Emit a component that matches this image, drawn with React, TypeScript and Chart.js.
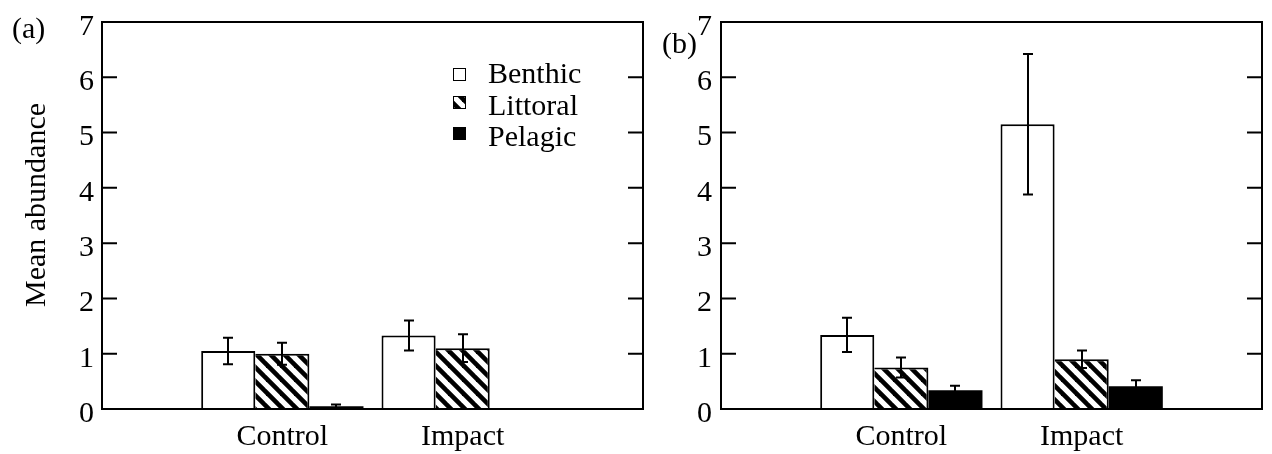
import React, { useEffect, useRef } from "react";
import { Chart, registerables } from "chart.js";

Chart.register(...registerables);

const categories = ["", "Control", "Impact", ""];
const seriesNames = ["Benthic", "Littoral", "Pelagic"];
const yTickValues = [0, 1, 2, 3, 4, 5, 6, 7];

// Panel (a)
const benthicA = [null, 1.05, 1.33, null];
const littoralA = [null, 1.0, 1.1, null];
const pelagicA = [null, 0.05, 0, null];
const benthicErrA = [0, 0.24, 0.27, 0];
const littoralErrA = [0, 0.2, 0.25, 0];
const pelagicErrA = [0, 0.03, 0, 0];

// Panel (b)
const benthicB = [null, 1.34, 5.15, null];
const littoralB = [null, 0.75, 0.9, null];
const pelagicB = [null, 0.34, 0.41, null];
const benthicErrB = [0, 0.31, 1.27, 0];
const littoralErrB = [0, 0.18, 0.16, 0];
const pelagicErrB = [0, 0.08, 0.11, 0];

const FONT = "'Liberation Serif', 'Times New Roman', serif";
const FS = 30;

function makeHatch(): CanvasPattern | string {
  const c = document.createElement("canvas");
  const p = 14;
  c.width = p;
  c.height = p;
  const g = c.getContext("2d");
  if (!g) return "#888";
  g.fillStyle = "#fff";
  g.fillRect(0, 0, p, p);
  g.strokeStyle = "#000";
  g.lineWidth = 4.6;
  for (let k = -1; k <= 1; k++) {
    g.beginPath();
    g.moveTo(k * p - 3, -3);
    g.lineTo(k * p + p + 3, p + 3);
    g.stroke();
  }
  const ctx = document.createElement("canvas").getContext("2d");
  const pat = ctx ? ctx.createPattern(c, "repeat") : null;
  return pat || "#888";
}

type PanelCfg = {
  benthic: (number | null)[];
  littoral: (number | null)[];
  pelagic: (number | null)[];
  errs: number[][];
  yAxisWidth: number;
  tickPad: number;
  rightPad: number;
  label: string;
  labelX: number;
  labelY: number;
  showLegend: boolean;
  showTitle: boolean;
};

function buildChart(canvas: HTMLCanvasElement, cfg: PanelCfg) {
  const hatch = makeHatch();
  const fills = ["#ffffff", hatch, "#000000"];
  const values = [cfg.benthic, cfg.littoral, cfg.pelagic];
  const borders = [
    { top: 2, left: 2, right: 2, bottom: 0 },
    { top: 2, left: 0, right: 2, bottom: 0 },
    0,
  ];

  const overlay = {
    id: "overlay" + cfg.label,
    afterDatasetsDraw(chart: any) {
      const ctx = chart.ctx as CanvasRenderingContext2D;
      const { left, right, top, bottom } = chart.chartArea;
      const ys = chart.scales.y;
      ctx.save();
      // error bars
      ctx.strokeStyle = "#000";
      ctx.lineWidth = 2;
      values.forEach((arr, di) => {
        const meta = chart.getDatasetMeta(di);
        meta.data.forEach((bar: any, i: number) => {
          const v = arr[i];
          const e = cfg.errs[di][i];
          if (v == null || !e) return;
          const x = Math.round(bar.x);
          const y1 = ys.getPixelForValue(v + e);
          const y2 = ys.getPixelForValue(Math.max(0, v - e));
          ctx.beginPath();
          ctx.moveTo(x, y1);
          ctx.lineTo(x, y2);
          ctx.moveTo(x - 5, y1);
          ctx.lineTo(x + 5, y1);
          ctx.moveTo(x - 5, y2);
          ctx.lineTo(x + 5, y2);
          ctx.stroke();
        });
      });
      // frame
      ctx.lineWidth = 2;
      ctx.strokeRect(left, top, right - left, bottom - top);
      // inward ticks + tick labels
      ctx.fillStyle = "#000";
      ctx.font = `${FS}px ${FONT}`;
      yTickValues.forEach((t) => {
        const y = ys.getPixelForValue(t);
        ctx.textAlign = "right";
        ctx.textBaseline = "middle";
        ctx.fillText(String(t), left - cfg.tickPad, y + 5);
        if (t === 0 || t === 7) return;
        ctx.beginPath();
        ctx.moveTo(left, y);
        ctx.lineTo(left + 15, y);
        ctx.moveTo(right - 15, y);
        ctx.lineTo(right, y);
        ctx.stroke();
      });
      // panel label
      ctx.textAlign = "left";
      ctx.textBaseline = "middle";
      ctx.fillText(cfg.label, cfg.labelX, cfg.labelY);
      // y title
      if (cfg.showTitle) {
        ctx.save();
        ctx.translate(37, 205);
        ctx.rotate(-Math.PI / 2);
        ctx.textAlign = "center";
        ctx.textBaseline = "middle";
        ctx.fillText("Mean abundance", 0, 0);
        ctx.restore();
      }
      // legend
      if (cfg.showLegend) {
        const baselines = [83, 114.5, 146];
        const boxTops = [68, 96, 127];
        seriesNames.forEach((name, i) => {
          const bt = boxTops[i];
          ctx.fillStyle = fills[i] as any;
          ctx.fillRect(453, bt, 13, 13);
          ctx.lineWidth = 1;
          ctx.strokeStyle = "#000";
          ctx.strokeRect(453.5, bt + 0.5, 12, 12);
          ctx.fillStyle = "#000";
          ctx.textAlign = "left";
          ctx.textBaseline = "alphabetic";
          ctx.fillText(name, 488, baselines[i]);
        });
      }
      ctx.restore();
    },
  };

  return new Chart(canvas, {
    type: "bar",
    data: {
      labels: categories,
      datasets: values.map((arr, i) => ({
        label: seriesNames[i],
        data: arr as any,
        backgroundColor: fills[i] as any,
        borderColor: "#000",
        borderWidth: borders[i] as any,
        borderSkipped: false as any,
        categoryPercentage: 0.9,
        barPercentage: 1.0,
      })),
    },
    options: {
      responsive: false,
      animation: false,
      layout: { padding: { left: 0, right: cfg.rightPad, top: 22, bottom: 0 } },
      plugins: {
        legend: { display: false },
        tooltip: { enabled: false },
        title: { display: false },
      },
      scales: {
        x: {
          offset: false,
          grid: { display: false, drawTicks: false },
          border: { display: false },
          ticks: {
            color: "#000",
            font: { family: FONT, size: FS },
            padding: 10,
            maxRotation: 0,
            autoSkip: false,
          },
          afterFit: (s: any) => {
            s.height = 45;
          },
        },
        y: {
          min: 0,
          max: 7,
          grid: { display: false, drawTicks: false },
          border: { display: false },
          ticks: { display: false, stepSize: 1 },
          afterFit: (s: any) => {
            s.width = cfg.yAxisWidth;
          },
        },
      },
    },
    plugins: [overlay],
  });
}

export default function App() {
  const refA = useRef<HTMLCanvasElement>(null);
  const refB = useRef<HTMLCanvasElement>(null);

  useEffect(() => {
    const a = buildChart(refA.current!, {
      benthic: benthicA,
      littoral: littoralA,
      pelagic: pelagicA,
      errs: [benthicErrA, littoralErrA, pelagicErrA],
      yAxisWidth: 102,
      tickPad: 8,
      rightPad: 12,
      label: "(a)",
      labelX: 12,
      labelY: 30,
      showLegend: true,
      showTitle: true,
    });
    const b = buildChart(refB.current!, {
      benthic: benthicB,
      littoral: littoralB,
      pelagic: pelagicB,
      errs: [benthicErrB, littoralErrB, pelagicErrB],
      yAxisWidth: 66,
      tickPad: 9,
      rightPad: 10,
      label: "(b)",
      labelX: 7,
      labelY: 45,
      showLegend: false,
      showTitle: false,
    });
    return () => {
      a.destroy();
      b.destroy();
    };
  }, []);

  return (
    <div
      style={{
        position: "fixed",
        left: 0,
        top: 0,
        width: 1272,
        height: 454,
        background: "#fff",
        overflow: "hidden",
      }}
    >
      <canvas
        ref={refA}
        width={655}
        height={454}
        style={{ position: "absolute", left: 0, top: 0, width: 655, height: 454 }}
      />
      <canvas
        ref={refB}
        width={617}
        height={454}
        style={{ position: "absolute", left: 655, top: 0, width: 617, height: 454 }}
      />
    </div>
  );
}
